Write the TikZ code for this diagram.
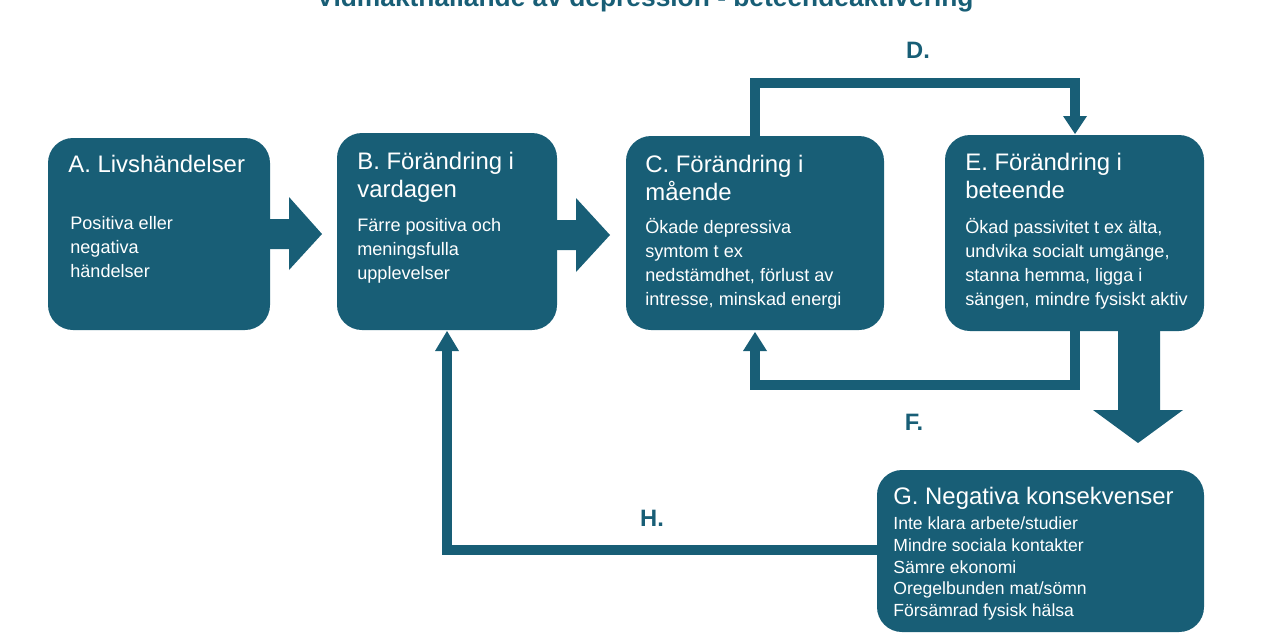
\documentclass[tikz,border=0pt]{standalone}
\usepackage{fontspec}
\setmainfont{Liberation Sans}
\begin{document}
\definecolor{teal1}{RGB}{24,94,118}
\begin{tikzpicture}[x=0.02cm,y=-0.02cm,
  box/.style={fill=teal1,rounded corners=0.5cm,draw=none},
  ttl/.style={text=white,anchor=north west,font=\fontsize{13.6}{15.8}\selectfont,align=left,inner sep=0pt},
  bod/.style={text=white,anchor=north west,font=\fontsize{10.3}{13.6}\selectfont,align=left,inner sep=0pt},
  lin/.style={draw=teal1,line width=5.5pt},
  lab/.style={text=teal1,font=\bfseries\fontsize{13.5}{16}\selectfont}]
\useasboundingbox (0,0) rectangle (1280,640);
\clip (0,0) rectangle (1280,640);
\node[text=teal1,font=\bfseries\fontsize{15}{18}\selectfont,anchor=base] (title) at (645,6) {Vidmakthållande av depression - beteendeaktivering};
% boxes
\path[box] (48,138) rectangle (270,330);
\path[box] (337,133) rectangle (557,330);
\path[box] (626,136) rectangle (884,330);
\path[box] (945,135) rectangle (1204,331);
\path[box] (877,470) rectangle (1204,632);
\node[ttl] (at) at (68,155) {A. Livshändelser};
\node[bod] (ab) at (70,216) {Positiva eller\\negativa\\händelser};
\node[ttl] (bt) at (357,152) {B. Förändring i\\vardagen};
\node[bod] (bb) at (357,218) {Färre positiva och\\meningsfulla\\upplevelser};
\node[ttl] (ct) at (645,155) {C. Förändring i\\mående};
\node[bod] (cb) at (645,218) {Ökade depressiva\\symtom t ex\\nedstämdhet, förlust av\\intresse, minskad energi};
\node[ttl] (et) at (965,153) {E. Förändring i\\beteende};
\node[bod] (eb) at (965,218) {Ökad passivitet t ex älta,\\undvika socialt umgänge,\\stanna hemma, ligga i\\sängen, mindre fysiskt aktiv};
\node[ttl] (gt) at (893,487) {G. Negativa konsekvenser};
\node[bod,font=\fontsize{10}{12.5}\selectfont] (gb) at (893,516) {Inte klara arbete/studier\\Mindre sociala kontakter\\Sämre ekonomi\\Oregelbunden mat/sömn\\Försämrad fysisk hälsa};
% fat arrows
\fill[teal1] (270,219) -- (289,219) -- (289,197) -- (322,234) -- (289,270) -- (289,249) -- (270,249) -- cycle;
\fill[teal1] (557,220) -- (576,220) -- (576,198) -- (610,235) -- (576,272) -- (576,250) -- (557,250) -- cycle;
\fill[teal1] (1118,331) -- (1160,331) -- (1160,410) -- (1183,410) -- (1138,443) -- (1093,410) -- (1118,410) -- cycle;
% loops
\coordinate (d1) at (755,83); \coordinate (d2) at (1075,83);
\draw[lin] (755,136) -- (d1) -- (d2) -- (1075,118);
\fill[teal1] (1063,116) -- (1087,116) -- (1075,134) -- cycle;
\coordinate (f1) at (1075,385); \coordinate (f2) at (755,385);
\draw[lin] (1075,331) -- (f1) -- (f2) -- (755,350);
\fill[teal1] (743,351) -- (767,351) -- (755,332) -- cycle;
\coordinate (h1) at (447,550);
\draw[lin] (877,550) -- (h1) -- (447,350);
\fill[teal1] (435,351) -- (459,351) -- (447,331) -- cycle;
\node[lab] (D) at (918,50) {D.};
\node[lab] (F) at (914,422) {F.};
\node[lab] (H) at (652,518) {H.};
\end{tikzpicture}
\end{document}
